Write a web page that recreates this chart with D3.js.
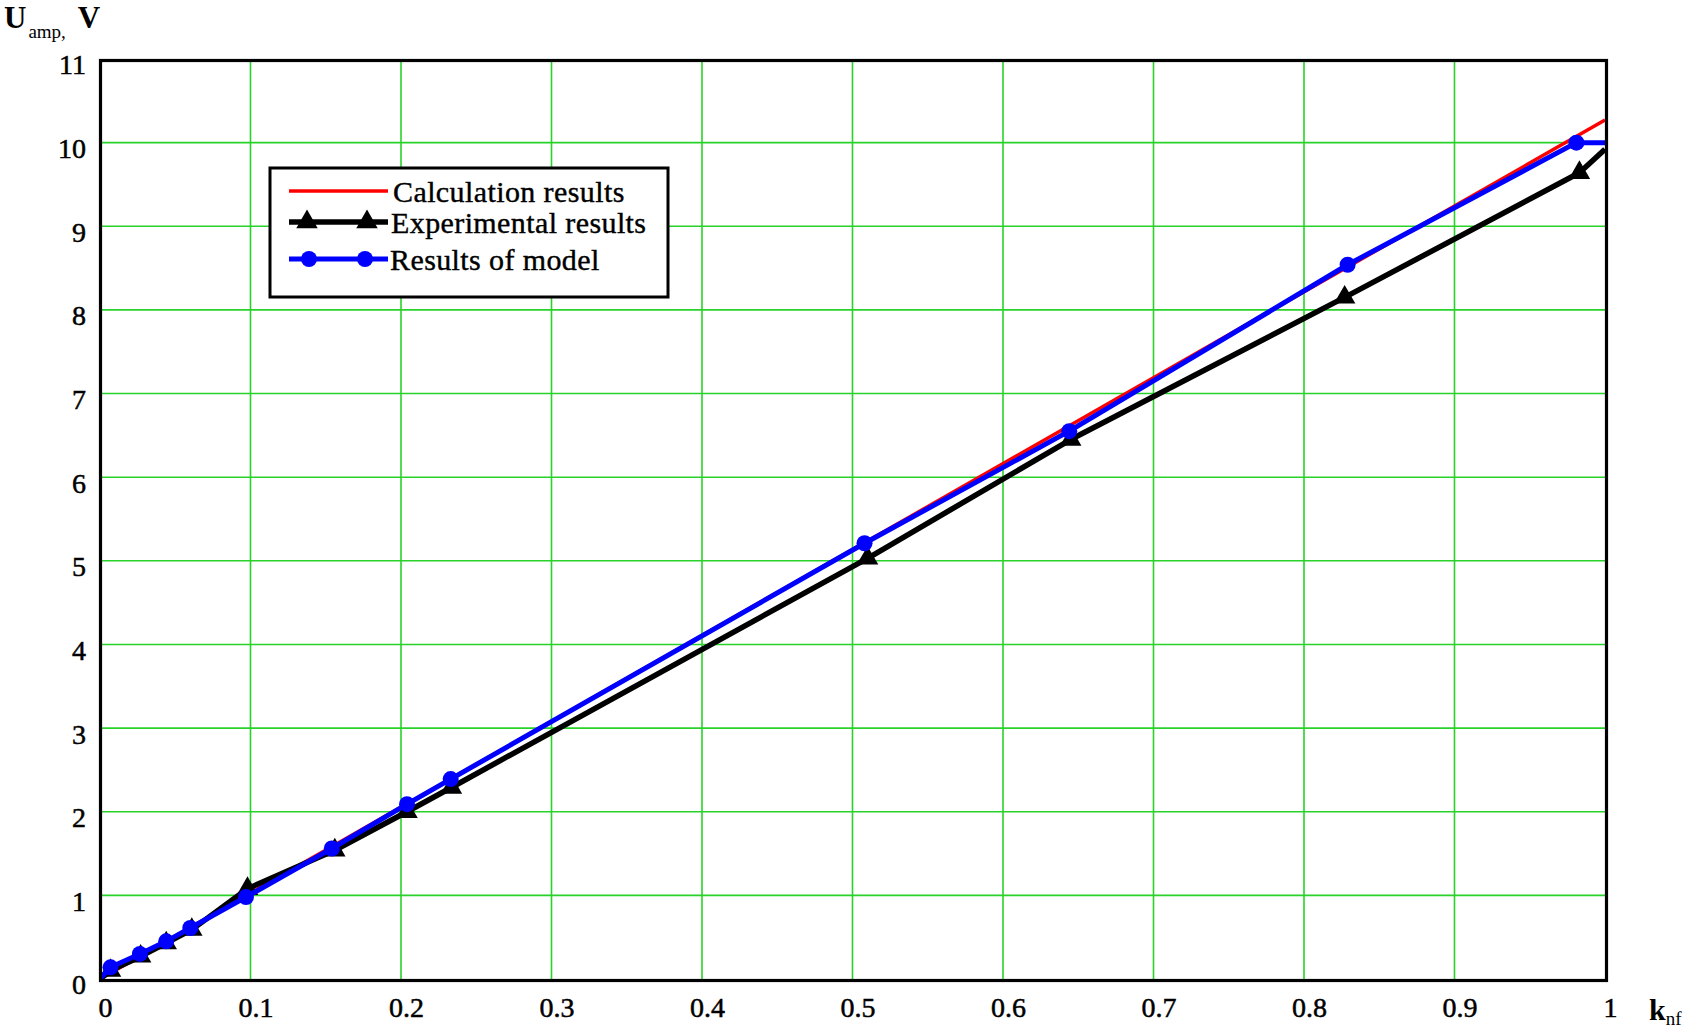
<!DOCTYPE html>
<html><head><meta charset="utf-8">
<script src="https://cdn.jsdelivr.net/npm/d3@7"></script>
<style>body{margin:0;background:#fff}svg{display:block}</style>
</head><body>
<script>
const xTicks = [0,0.1,0.2,0.3,0.4,0.5,0.6,0.7,0.8,0.9,1];
const xTickLabels = ["0","0.1","0.2","0.3","0.4","0.5","0.6","0.7","0.8","0.9","1"];
const yTicks = [0,1,2,3,4,5,6,7,8,9,10,11];
const calcX = [0, 1];
const calcY = [0, 10.27];
const expX = [0, 0.007, 0.027, 0.044, 0.061, 0.098, 0.156, 0.204, 0.2335, 0.51, 0.645, 0.827, 0.983, 1];
const expY = [0, 0.10, 0.27, 0.43, 0.59, 1.08, 1.54, 2.0, 2.29, 5.03, 6.45, 8.15, 9.64, 9.92];
const expMarked = [false,true,true,true,true,true,true,true,true,true,true,true,true,false];
const modX = [0, 0.007, 0.0265, 0.044, 0.06, 0.097, 0.154, 0.204, 0.233, 0.508, 0.644, 0.829, 0.981, 1];
const modY = [0, 0.14, 0.30, 0.45, 0.61, 0.98, 1.56, 2.09, 2.39, 5.21, 6.55, 8.54, 10.0, 10.0];
const modMarked = [false,true,true,true,true,true,true,true,true,true,true,true,true,false];
const legendLabels = ["Calculation results","Experimental results","Results of model"];

const W=1693,H=1035;
const svg=d3.select("body").append("svg").attr("width",W).attr("height",H);
const x=d3.scaleLinear().domain([0,1]).range([100,1605]);
const y=d3.scaleLinear().domain([0,11]).range([979,59]);
const font="'Liberation Serif','Times New Roman',serif";
const green="rgb(40,210,40)";

svg.append("clipPath").attr("id","c").append("rect").attr("x",100).attr("y",59).attr("width",1505).attr("height",920);

const g=svg.append("g");
g.selectAll("line.vx").data(xTicks.slice(1,-1)).enter().append("line")
 .attr("x1",d=>x(d)).attr("x2",d=>x(d)).attr("y1",y(0)).attr("y2",y(11))
 .attr("stroke",green).attr("stroke-width",1.6);
g.selectAll("line.hy").data(yTicks.slice(1,-1)).enter().append("line")
 .attr("x1",x(0)).attr("x2",x(1)).attr("y1",d=>y(d)).attr("y2",d=>y(d))
 .attr("stroke",green).attr("stroke-width",1.6);

const xa=d3.axisBottom(x).tickValues(xTicks).tickFormat((d,i)=>xTickLabels[i]).tickSize(0).tickPadding(0);
const gx=svg.append("g").attr("transform",`translate(5,${y(0)+38})`).call(xa);
gx.select(".domain").remove();
gx.selectAll("text").attr("font-family",font).attr("font-size",28).attr("fill","#000").attr("stroke","#000").attr("stroke-width",0.5).attr("dy","0");
const ya=d3.axisLeft(y).tickValues(yTicks).tickSize(0).tickPadding(0);
const gy=svg.append("g").attr("transform",`translate(86,6)`).call(ya);
gy.select(".domain").remove();
gy.selectAll("text").attr("font-family",font).attr("font-size",28).attr("fill","#000").attr("stroke","#000").attr("stroke-width",0.5);

const plot=svg.append("g").attr("clip-path","url(#c)");
const line=d3.line().x(d=>x(d[0])).y(d=>y(d[1]));
const calc=calcX.map((v,i)=>[v,calcY[i]]);
const exp=expX.map((v,i)=>[v,expY[i]]);
const mod=modX.map((v,i)=>[v,modY[i]]);

plot.append("path").attr("d",line(calc)).attr("fill","none").attr("stroke","#f00").attr("stroke-width",3.5);
plot.append("path").attr("d",line(exp)).attr("fill","none").attr("stroke","#000").attr("stroke-width",5.5).attr("stroke-linejoin","round");
const tri=d3.symbol().type(d3.symbolTriangle).size(200);
plot.selectAll("path.t").data(exp.filter((d,i)=>expMarked[i])).enter().append("path")
 .attr("d",tri).attr("transform",d=>`translate(${x(d[0])},${y(d[1])})`).attr("fill","#000");
plot.append("path").attr("d",line(mod)).attr("fill","none").attr("stroke","#00f").attr("stroke-width",5).attr("stroke-linejoin","round");
plot.selectAll("circle.m").data(mod.filter((d,i)=>modMarked[i])).enter().append("circle")
 .attr("cx",d=>x(d[0])).attr("cy",d=>y(d[1])).attr("r",8).attr("fill","#00f");

svg.append("rect").attr("x",100.5).attr("y",60.5).attr("width",1506).attr("height",920)
 .attr("fill","none").attr("stroke","#000").attr("stroke-width",3.2);

const lg=svg.append("g");
lg.append("rect").attr("x",270).attr("y",168).attr("width",398).attr("height",129).attr("fill","#fff").attr("stroke","#000").attr("stroke-width",3);
const ly=[191,222,259];
lg.append("line").attr("x1",289).attr("x2",388).attr("y1",ly[0]).attr("y2",ly[0]).attr("stroke","#f00").attr("stroke-width",3.5);
lg.append("line").attr("x1",289).attr("x2",388).attr("y1",ly[1]).attr("y2",ly[1]).attr("stroke","#000").attr("stroke-width",5.5);
[307,367].forEach(cx=>lg.append("path").attr("d",tri).attr("transform",`translate(${cx},${ly[1]})`).attr("fill","#000"));
lg.append("line").attr("x1",289).attr("x2",388).attr("y1",ly[2]).attr("y2",ly[2]).attr("stroke","#00f").attr("stroke-width",5);
[309,365].forEach(cx=>lg.append("circle").attr("cx",cx).attr("cy",ly[2]).attr("r",8).attr("fill","#00f"));
legendLabels.forEach((t,i)=>lg.append("text").attr("x",i==0?393:(i==1?391:390)).attr("y",ly[i]+11).attr("font-family",font).attr("font-size",30).attr("letter-spacing",0.4).attr("fill","#000").attr("stroke","#000").attr("stroke-width",0.4).text(t));

const yt=svg.append("text").attr("x",4).attr("y",28).attr("font-family",font).attr("fill","#000");
yt.append("tspan").attr("font-size",31).attr("font-weight","bold").text("U");
yt.append("tspan").attr("font-size",19).attr("dy",10).attr("dx",2).text("amp,");
yt.append("tspan").attr("font-size",31).attr("font-weight","bold").attr("dy",-10).attr("dx",12).text("V");
const xt=svg.append("text").attr("x",1649).attr("y",1020).attr("font-family",font).attr("fill","#000");
xt.append("tspan").attr("font-size",30).attr("font-weight","bold").text("k");
xt.append("tspan").attr("font-size",19).attr("dy",5).text("nf");
</script>
</body></html>
